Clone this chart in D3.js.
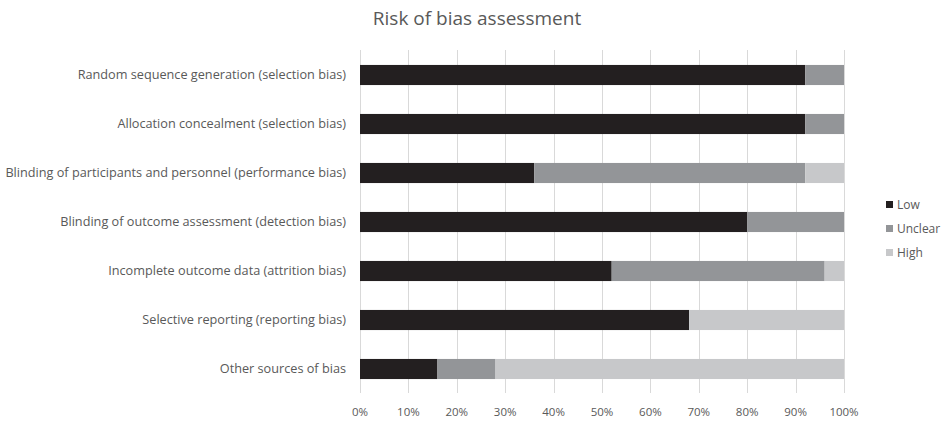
<!DOCTYPE html>
<html><head><meta charset="utf-8">
<script src="https://cdn.jsdelivr.net/npm/d3@7"></script>
<style>body{margin:0;background:#fff}svg{display:block}text{font-family:"Open Sans",Lato,sans-serif;fill:#595959}</style>
</head><body><svg id="c" width="947" height="421"></svg>
<script>
const categories = ["Random sequence generation (selection bias)","Allocation concealment (selection bias)","Blinding of participants and personnel (performance bias)","Blinding of outcome assessment (detection bias)","Incomplete outcome data (attrition bias)","Selective reporting (reporting bias)","Other sources of bias"];
const seriesNames = ["Low","Unclear","High"];
const low = [92,92,36,80,52,68,16];
const unclear = [8,8,56,20,44,0,12];
const high = [0,0,8,0,4,32,72];
const tickLabels = ["0%","10%","20%","30%","40%","50%","60%","70%","80%","90%","100%"];
const colors = ["#231f20","#939598","#c7c8ca"];

const svg = d3.select("#c");
const x = d3.scaleLinear().domain([0,1]).range([360,844]);
const y = d3.scaleBand().domain(categories).range([50.5,393.5]).paddingInner(0.59).paddingOuter(0.295);
const rows = categories.map((c,i)=>({cat:c, Low:low[i]/100, Unclear:unclear[i]/100, High:high[i]/100}));
const stack = d3.stack().keys(seriesNames)(rows);

svg.append("text").attr("x",477).attr("y",25).attr("text-anchor","middle").style("font-size","19px").text("Risk of bias assessment");

const ticks = d3.range(0,1.0001,0.1);
svg.append("g").selectAll("line").data(ticks).join("line")
  .attr("x1",d=>Math.round(x(d))+0.5).attr("x2",d=>Math.round(x(d))+0.5)
  .attr("y1",50).attr("y2",393).attr("stroke","#d9d9d9").attr("stroke-width",1);
svg.append("g").selectAll("text").data(ticks).join("text")
  .attr("x",d=>x(d)).attr("y",416).attr("text-anchor","middle").style("font-size","11.5px")
  .text((d,i)=>tickLabels[i]);

stack.forEach((s,k)=>{
  svg.append("g").attr("fill",colors[k]).selectAll("rect").data(s).join("rect")
    .attr("x",d=>x(d[0])).attr("width",d=>x(d[1])-x(d[0]))
    .attr("y",d=>y(d.data.cat)).attr("height",y.bandwidth());
});

svg.append("g").selectAll("text").data(categories).join("text")
  .attr("x",346).attr("y",d=>y(d)+y.bandwidth()/2).attr("dy","0.35em")
  .attr("text-anchor","end").style("font-size","12.7px").text(d=>d);

const lg = svg.append("g");
seriesNames.forEach((n,i)=>{
  lg.append("rect").attr("x",886).attr("y",201+i*24).attr("width",7).attr("height",7).attr("fill",colors[i]);
  lg.append("text").attr("x",897).attr("y",204.5+i*24).attr("dy","0.35em").style("font-size","12px").text(n);
});
</script></body></html>
